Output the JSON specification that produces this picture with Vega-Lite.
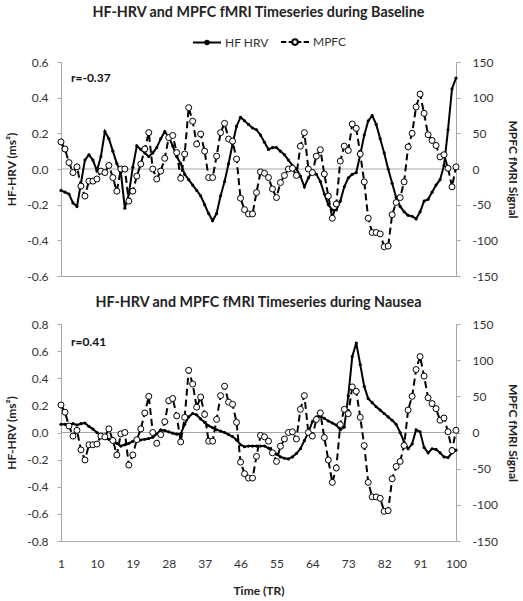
{
"$schema": "https://vega.github.io/schema/vega-lite/v6.json",
"padding": {"left": 5, "top": 5, "right": 5, "bottom": 5},
"spacing": 13,
"config": {
  "font": "Lato",
  "view": {"stroke": null},
  "axis": {"labelFont": "Lato", "labelFontSize": 12, "labelColor": "#333333", "titleFont": "Lato", "titleFontSize": 12, "titleFontWeight": "bold", "titleColor": "#222222", "domainColor": "#a6a6a6", "tickColor": "#a6a6a6", "grid": false, "labelOverlap": false, "labelFlush": false, "tickCount": 30},
  "title": {"font": "Lato", "fontSize": 14.3, "fontWeight": "bold", "color": "#222222", "anchor": "middle"}
},
"datasets": {
"base": [
{"t":1,"hf":-0.12,"mpfc":38},{"t":2,"hf":-0.13,"mpfc":28},{"t":3,"hf":-0.14,"mpfc":9},{"t":4,"hf":-0.19,"mpfc":-5},{"t":5,"hf":-0.21,"mpfc":3},
{"t":6,"hf":-0.08,"mpfc":-24},{"t":7,"hf":0.05,"mpfc":-38},{"t":8,"hf":0.08,"mpfc":-17},{"t":9,"hf":0.05,"mpfc":-17},{"t":10,"hf":-0.01,"mpfc":-14},
{"t":11,"hf":0.07,"mpfc":-3},{"t":12,"hf":0.21,"mpfc":-5},{"t":13,"hf":0.17,"mpfc":5},{"t":14,"hf":0.1,"mpfc":-12},{"t":15,"hf":0.03,"mpfc":-31},
{"t":16,"hf":-0.02,"mpfc":0},{"t":17,"hf":-0.22,"mpfc":0},{"t":18,"hf":-0.14,"mpfc":-45},{"t":19,"hf":0.01,"mpfc":-31},{"t":20,"hf":0.13,"mpfc":-10},
{"t":21,"hf":0.11,"mpfc":7},{"t":22,"hf":0.09,"mpfc":28},{"t":23,"hf":0.07,"mpfc":51},{"t":24,"hf":0.09,"mpfc":0},{"t":25,"hf":0.12,"mpfc":-14},
{"t":26,"hf":0.17,"mpfc":-3},{"t":27,"hf":0.21,"mpfc":15},{"t":28,"hf":0.18,"mpfc":44},{"t":29,"hf":0.13,"mpfc":47},{"t":30,"hf":0.07,"mpfc":23},
{"t":31,"hf":0.03,"mpfc":-13},{"t":32,"hf":-0.03,"mpfc":21},{"t":33,"hf":-0.06,"mpfc":86},{"t":34,"hf":-0.09,"mpfc":67},{"t":35,"hf":-0.12,"mpfc":35},
{"t":36,"hf":-0.15,"mpfc":49},{"t":37,"hf":-0.2,"mpfc":25},{"t":38,"hf":-0.25,"mpfc":-12},{"t":39,"hf":-0.29,"mpfc":-12},{"t":40,"hf":-0.25,"mpfc":18},
{"t":41,"hf":-0.15,"mpfc":51},{"t":42,"hf":-0.07,"mpfc":64},{"t":43,"hf":0.03,"mpfc":42},{"t":44,"hf":0.14,"mpfc":39},{"t":45,"hf":0.24,"mpfc":14},
{"t":46,"hf":0.29,"mpfc":-41},{"t":47,"hf":0.27,"mpfc":-57},{"t":48,"hf":0.25,"mpfc":-63},{"t":49,"hf":0.23,"mpfc":-63},{"t":50,"hf":0.22,"mpfc":-33},
{"t":51,"hf":0.19,"mpfc":-4},{"t":52,"hf":0.15,"mpfc":-6},{"t":53,"hf":0.11,"mpfc":-12},{"t":54,"hf":0.12,"mpfc":-28},{"t":55,"hf":0.12,"mpfc":-40},
{"t":56,"hf":0.1,"mpfc":-19},{"t":57,"hf":0.08,"mpfc":-9},{"t":58,"hf":0.05,"mpfc":0},{"t":59,"hf":0.02,"mpfc":1},{"t":60,"hf":0.0,"mpfc":-9},
{"t":61,"hf":-0.04,"mpfc":32},{"t":62,"hf":-0.1,"mpfc":51},{"t":63,"hf":-0.05,"mpfc":0},{"t":64,"hf":-0.01,"mpfc":-5},{"t":65,"hf":-0.03,"mpfc":18},
{"t":66,"hf":-0.07,"mpfc":27},{"t":67,"hf":-0.14,"mpfc":-7},{"t":68,"hf":-0.2,"mpfc":-38},{"t":69,"hf":-0.23,"mpfc":-69},{"t":70,"hf":-0.23,"mpfc":-49},
{"t":71,"hf":-0.18,"mpfc":11},{"t":72,"hf":-0.1,"mpfc":32},{"t":73,"hf":-0.05,"mpfc":26},{"t":74,"hf":-0.03,"mpfc":63},{"t":75,"hf":-0.02,"mpfc":57},
{"t":76,"hf":0.08,"mpfc":21},{"t":77,"hf":0.19,"mpfc":-18},{"t":78,"hf":0.27,"mpfc":-69},{"t":79,"hf":0.3,"mpfc":-89},{"t":80,"hf":0.25,"mpfc":-89},
{"t":81,"hf":0.17,"mpfc":-91},{"t":82,"hf":0.09,"mpfc":-109},{"t":83,"hf":0.0,"mpfc":-108},{"t":84,"hf":-0.08,"mpfc":-64},{"t":85,"hf":-0.16,"mpfc":-47},
{"t":86,"hf":-0.21,"mpfc":-40},{"t":87,"hf":-0.24,"mpfc":-18},{"t":88,"hf":-0.26,"mpfc":31},{"t":89,"hf":-0.265,"mpfc":50},{"t":90,"hf":-0.28,"mpfc":87},
{"t":91,"hf":-0.24,"mpfc":105},{"t":92,"hf":-0.18,"mpfc":78},{"t":93,"hf":-0.17,"mpfc":48},{"t":94,"hf":-0.13,"mpfc":40},{"t":95,"hf":-0.09,"mpfc":33},
{"t":96,"hf":-0.06,"mpfc":17},{"t":97,"hf":0.02,"mpfc":20},{"t":98,"hf":0.22,"mpfc":1},{"t":99,"hf":0.45,"mpfc":-25},{"t":100,"hf":0.51,"mpfc":3}
],
"nausea": [
{"t":1,"hf":0.06,"mpfc":38},{"t":2,"hf":0.06,"mpfc":28},{"t":3,"hf":0.06,"mpfc":9},{"t":4,"hf":0.065,"mpfc":-5},{"t":5,"hf":0.055,"mpfc":3},
{"t":6,"hf":0.065,"mpfc":-24},{"t":7,"hf":0.07,"mpfc":-38},{"t":8,"hf":0.045,"mpfc":-17},{"t":9,"hf":0.025,"mpfc":-17},{"t":10,"hf":0.0,"mpfc":-16},
{"t":11,"hf":-0.025,"mpfc":-5},{"t":12,"hf":-0.04,"mpfc":-6},{"t":13,"hf":-0.05,"mpfc":5},{"t":14,"hf":-0.06,"mpfc":-11},{"t":15,"hf":-0.08,"mpfc":-31},
{"t":16,"hf":-0.1,"mpfc":-2},{"t":17,"hf":-0.09,"mpfc":0},{"t":18,"hf":-0.08,"mpfc":-45},{"t":19,"hf":-0.065,"mpfc":-31},{"t":20,"hf":-0.06,"mpfc":-10},
{"t":21,"hf":-0.055,"mpfc":5},{"t":22,"hf":-0.05,"mpfc":27},{"t":23,"hf":-0.045,"mpfc":50},{"t":24,"hf":-0.035,"mpfc":0},{"t":25,"hf":-0.01,"mpfc":-15},
{"t":26,"hf":0.02,"mpfc":-3},{"t":27,"hf":0.015,"mpfc":15},{"t":28,"hf":0.005,"mpfc":44},{"t":29,"hf":-0.005,"mpfc":47},{"t":30,"hf":-0.012,"mpfc":23},
{"t":31,"hf":-0.01,"mpfc":-13},{"t":32,"hf":0.06,"mpfc":21},{"t":33,"hf":0.115,"mpfc":86},{"t":34,"hf":0.14,"mpfc":67},{"t":35,"hf":0.13,"mpfc":35},
{"t":36,"hf":0.1,"mpfc":49},{"t":37,"hf":0.075,"mpfc":25},{"t":38,"hf":0.05,"mpfc":-12},{"t":39,"hf":0.035,"mpfc":-12},{"t":40,"hf":0.02,"mpfc":18},
{"t":41,"hf":0.01,"mpfc":51},{"t":42,"hf":0.0,"mpfc":64},{"t":43,"hf":-0.015,"mpfc":42},{"t":44,"hf":-0.03,"mpfc":39},{"t":45,"hf":-0.055,"mpfc":14},
{"t":46,"hf":-0.09,"mpfc":-41},{"t":47,"hf":-0.105,"mpfc":-57},{"t":48,"hf":-0.1,"mpfc":-63},{"t":49,"hf":-0.1,"mpfc":-63},{"t":50,"hf":-0.1,"mpfc":-33},
{"t":51,"hf":-0.1,"mpfc":-4},{"t":52,"hf":-0.1,"mpfc":-6},{"t":53,"hf":-0.115,"mpfc":-12},{"t":54,"hf":-0.14,"mpfc":-28},{"t":55,"hf":-0.16,"mpfc":-40},
{"t":56,"hf":-0.18,"mpfc":-19},{"t":57,"hf":-0.19,"mpfc":-9},{"t":58,"hf":-0.195,"mpfc":0},{"t":59,"hf":-0.18,"mpfc":1},{"t":60,"hf":-0.155,"mpfc":-9},
{"t":61,"hf":-0.12,"mpfc":32},{"t":62,"hf":-0.06,"mpfc":51},{"t":63,"hf":0.0,"mpfc":0},{"t":64,"hf":0.08,"mpfc":-5},{"t":65,"hf":0.115,"mpfc":18},
{"t":66,"hf":0.12,"mpfc":27},{"t":67,"hf":0.105,"mpfc":-7},{"t":68,"hf":0.085,"mpfc":-38},{"t":69,"hf":0.07,"mpfc":-69},{"t":70,"hf":0.055,"mpfc":-49},
{"t":71,"hf":0.02,"mpfc":11},{"t":72,"hf":0.04,"mpfc":32},{"t":73,"hf":0.27,"mpfc":26},{"t":74,"hf":0.56,"mpfc":63},{"t":75,"hf":0.66,"mpfc":57},
{"t":76,"hf":0.5,"mpfc":21},{"t":77,"hf":0.34,"mpfc":-18},{"t":78,"hf":0.25,"mpfc":-69},{"t":79,"hf":0.22,"mpfc":-89},{"t":80,"hf":0.19,"mpfc":-89},
{"t":81,"hf":0.165,"mpfc":-91},{"t":82,"hf":0.14,"mpfc":-109},{"t":83,"hf":0.115,"mpfc":-108},{"t":84,"hf":0.09,"mpfc":-64},{"t":85,"hf":0.06,"mpfc":-47},
{"t":86,"hf":0.0,"mpfc":-40},{"t":87,"hf":-0.07,"mpfc":-18},{"t":88,"hf":-0.12,"mpfc":31},{"t":89,"hf":-0.085,"mpfc":50},{"t":90,"hf":0.02,"mpfc":87},
{"t":91,"hf":0.005,"mpfc":105},{"t":92,"hf":-0.11,"mpfc":78},{"t":93,"hf":-0.15,"mpfc":48},{"t":94,"hf":-0.12,"mpfc":40},{"t":95,"hf":-0.125,"mpfc":33},
{"t":96,"hf":-0.15,"mpfc":17},{"t":97,"hf":-0.18,"mpfc":20},{"t":98,"hf":-0.185,"mpfc":1},{"t":99,"hf":-0.15,"mpfc":-25},{"t":100,"hf":-0.13,"mpfc":3}
]
},
"resolve": {"scale": {"y": "independent"}},
"vconcat": [
{
  "title": {"text": "HF-HRV and MPFC fMRI Timeseries during Baseline", "offset": 36},
  "width": 395, "height": 214,
  "data": {"name": "base"},
  "resolve": {"scale": {"y": "independent"}},
  "layer": [
    {"layer": [
      {"data": {"values": [{"z": 0}]}, "mark": {"type": "rule", "color": "#a6a6a6", "strokeWidth": 1}, "encoding": {"y": {"field": "z", "type": "quantitative"}}},
      {"mark": {"type": "line", "color": "black", "strokeWidth": 2},
       "encoding": {
         "x": {"field": "t", "type": "quantitative", "scale": {"domain": [1, 100], "nice": false, "zero": false}, "axis": {"values": [1,10,19,28,37,46,55,64,73,82,91,100], "tickCount": 30, "labels": false, "ticks": false, "title": null}},
         "y": {"field": "hf", "type": "quantitative", "scale": {"domain": [-0.6, 0.6], "nice": false, "zero": false}, "axis": {"orient": "left", "values": [-0.6,-0.4,-0.2,0,0.2,0.4,0.6], "tickCount": 30, "labelOverlap": false, "labelExpr": "replace(format(datum.value, '.1f'), '\u2212', '-')", "tickSize": 4, "labelPadding": 9, "title": "HF-HRV (ms²)", "titlePadding": 8}}
       }},
      {"mark": {"type": "point", "filled": true, "color": "black", "size": 10, "opacity": 1},
       "encoding": {"x": {"field": "t", "type": "quantitative"}, "y": {"field": "hf", "type": "quantitative"}}},
      {"data": {"values": [{"r": "r=-0.37"}]}, "mark": {"type": "text", "fontWeight": "bold", "fontSize": 12, "align": "left", "baseline": "middle", "color": "#111111"},
       "encoding": {"x": {"datum": 3.5}, "y": {"datum": 0.51}, "text": {"field": "r"}}},
      {"data": {"values": []}, "mark": {"type": "point", "filled": true, "opacity": 1, "strokeWidth": 2},
       "encoding": {
         "shape": {"field": "s", "type": "nominal", "scale": {"domain": ["HF HRV", "MPFC"], "range": ["M-1,0H1M0.12,0A0.12,0.12,0,1,1,-0.12,0A0.12,0.12,0,1,1,0.12,0", "M-1,0H-0.62M-0.45,0H-0.25M0.25,0H0.45M0.62,0H1M0.2,0A0.2,0.2,0,1,1,-0.2,0A0.2,0.2,0,1,1,0.2,0"]},
           "legend": {"orient": "none", "legendX": 131, "legendY": -35, "direction": "horizontal", "title": null, "symbolSize": 784, "symbolStrokeWidth": 2, "labelFontSize": 12, "labelOffset": 3, "columnPadding": 8, "labelColor": "#333333"}},
         "fill": {"field": "s", "type": "nominal", "scale": {"domain": ["HF HRV", "MPFC"], "range": ["black", "white"]},
           "legend": {"orient": "none", "legendX": 131, "legendY": -35, "direction": "horizontal", "title": null, "symbolSize": 784, "symbolStrokeWidth": 2, "labelFontSize": 12, "labelOffset": 3, "columnPadding": 8, "labelColor": "#333333"}},
         "stroke": {"field": "s", "type": "nominal", "scale": {"domain": ["HF HRV", "MPFC"], "range": ["black", "black"]},
           "legend": {"orient": "none", "legendX": 131, "legendY": -35, "direction": "horizontal", "title": null, "symbolSize": 784, "symbolStrokeWidth": 2, "labelFontSize": 12, "labelOffset": 3, "columnPadding": 8, "labelColor": "#333333"}}
       }}
    ]},
    {"layer": [
      {"mark": {"type": "line", "color": "black", "strokeWidth": 2, "strokeDash": [7, 4]},
       "encoding": {
         "x": {"field": "t", "type": "quantitative"},
         "y": {"field": "mpfc", "type": "quantitative", "scale": {"domain": [-150, 150], "nice": false, "zero": false}, "axis": {"orient": "right", "values": [-150,-100,-50,0,50,100,150], "tickCount": 30, "labelOverlap": false, "labelExpr": "replace(format(datum.value, 'd'), '\u2212', '-')", "tickSize": 4, "labelPadding": 12, "title": "MPFC fMRI Signal", "titlePadding": 8}}
       }},
      {"mark": {"type": "point", "filled": true, "fill": "white", "stroke": "black", "strokeWidth": 1, "size": 36, "opacity": 1},
       "encoding": {"x": {"field": "t", "type": "quantitative"}, "y": {"field": "mpfc", "type": "quantitative"}}}
    ]}
  ]
},
{
  "title": {"text": "HF-HRV and MPFC fMRI Timeseries during Nausea", "offset": 8},
  "width": 395, "height": 217,
  "data": {"name": "nausea"},
  "resolve": {"scale": {"y": "independent"}},
  "layer": [
    {"layer": [
      {"data": {"values": [{"z": 0}]}, "mark": {"type": "rule", "color": "#a6a6a6", "strokeWidth": 1}, "encoding": {"y": {"field": "z", "type": "quantitative"}}},
      {"mark": {"type": "line", "color": "black", "strokeWidth": 2},
       "encoding": {
         "x": {"field": "t", "type": "quantitative", "scale": {"domain": [1, 100], "nice": false, "zero": false}, "axis": {"values": [1,10,19,28,37,46,55,64,73,82,91,100], "tickCount": 30, "ticks": false, "labelPadding": 17, "labelOverlap": false, "labelFlush": false, "title": "Time (TR)", "titlePadding": 16}},
         "y": {"field": "hf", "type": "quantitative", "scale": {"domain": [-0.8, 0.8], "nice": false, "zero": false}, "axis": {"orient": "left", "values": [-0.8,-0.6,-0.4,-0.2,0,0.2,0.4,0.6,0.8], "tickCount": 30, "labelOverlap": false, "labelExpr": "replace(format(datum.value, '.1f'), '\u2212', '-')", "tickSize": 4, "labelPadding": 9, "title": "HF-HRV (ms²)", "titlePadding": 8}}
       }},
      {"mark": {"type": "point", "filled": true, "color": "black", "size": 10, "opacity": 1},
       "encoding": {"x": {"field": "t", "type": "quantitative"}, "y": {"field": "hf", "type": "quantitative"}}},
      {"data": {"values": [{"r": "r=0.41"}]}, "mark": {"type": "text", "fontWeight": "bold", "fontSize": 12, "align": "left", "baseline": "middle", "color": "#111111"},
       "encoding": {"x": {"datum": 3.5}, "y": {"datum": 0.67}, "text": {"field": "r"}}}
    ]},
    {"layer": [
      {"mark": {"type": "line", "color": "black", "strokeWidth": 2, "strokeDash": [7, 4]},
       "encoding": {
         "x": {"field": "t", "type": "quantitative"},
         "y": {"field": "mpfc", "type": "quantitative", "scale": {"domain": [-150, 150], "nice": false, "zero": false}, "axis": {"orient": "right", "values": [-150,-100,-50,0,50,100,150], "tickCount": 30, "labelOverlap": false, "labelExpr": "replace(format(datum.value, 'd'), '\u2212', '-')", "tickSize": 4, "labelPadding": 12, "title": "MPFC fMRI Signal", "titlePadding": 8}}
       }},
      {"mark": {"type": "point", "filled": true, "fill": "white", "stroke": "black", "strokeWidth": 1, "size": 36, "opacity": 1},
       "encoding": {"x": {"field": "t", "type": "quantitative"}, "y": {"field": "mpfc", "type": "quantitative"}}}
    ]}
  ]
}
]
}
